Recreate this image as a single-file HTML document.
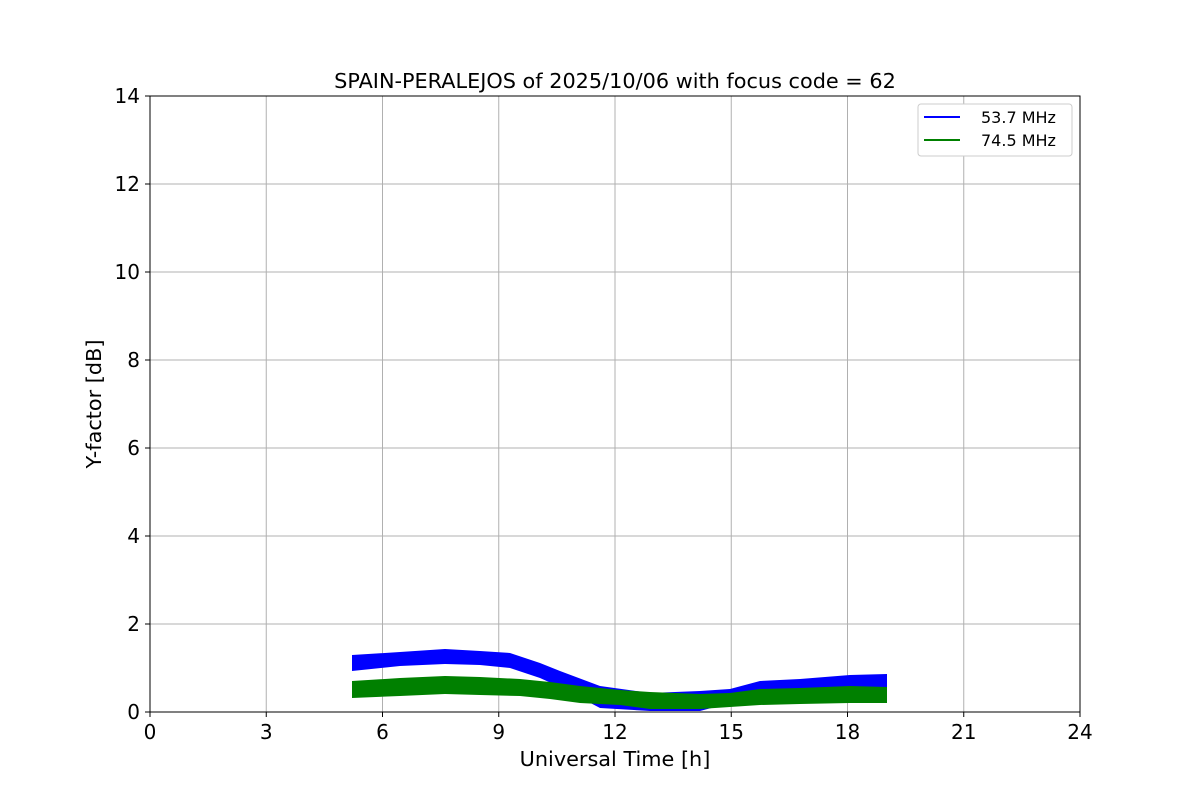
<!DOCTYPE html>
<html><head><meta charset="utf-8"><style>body{margin:0;background:#fff}</style></head><body>
<svg width="1200" height="800" xmlns="http://www.w3.org/2000/svg" font-family="DejaVu Sans, sans-serif">
<rect width="1200" height="800" fill="#fff"/>
<g stroke="#b0b0b0" stroke-width="1">
<line x1="266.25" y1="96" x2="266.25" y2="712"/><line x1="382.5" y1="96" x2="382.5" y2="712"/><line x1="498.75" y1="96" x2="498.75" y2="712"/><line x1="615" y1="96" x2="615" y2="712"/><line x1="731.25" y1="96" x2="731.25" y2="712"/><line x1="847.5" y1="96" x2="847.5" y2="712"/><line x1="963.75" y1="96" x2="963.75" y2="712"/>
<line x1="150" y1="624" x2="1080" y2="624"/><line x1="150" y1="536" x2="1080" y2="536"/><line x1="150" y1="448" x2="1080" y2="448"/><line x1="150" y1="360" x2="1080" y2="360"/><line x1="150" y1="272" x2="1080" y2="272"/><line x1="150" y1="184" x2="1080" y2="184"/>
</g>
<polygon fill="#0000ff" points="352,655 400,652 445,649 480,651 510,653 540,663 560,671 600,686 650,693 700,691 730,689 760,681 800,679 850,675 887,674 887,689 850,690 800,694 760,697 730,703 700,711 650,711 600,708 560,687 540,678 510,668 480,665 445,664 400,666 352,671"/>
<polygon fill="#008000" points="352,681 400,678 445,676 480,677 520,679 550,682 580,686 620,690 650,692 700,694 730,693 760,689 800,688 850,686 887,687 887,703 850,703 800,704 760,705 730,707 700,709 650,709 620,705 580,703 550,699 520,696 480,695 445,694 400,696 352,698"/>
<rect x="150" y="96" width="930" height="616" fill="none" stroke="#000" stroke-width="1"/>
<g stroke="#000">
<line x1="150" y1="712" x2="150" y2="717"/><line x1="266.25" y1="712" x2="266.25" y2="717"/><line x1="382.5" y1="712" x2="382.5" y2="717"/><line x1="498.75" y1="712" x2="498.75" y2="717"/><line x1="615" y1="712" x2="615" y2="717"/><line x1="731.25" y1="712" x2="731.25" y2="717"/><line x1="847.5" y1="712" x2="847.5" y2="717"/><line x1="963.75" y1="712" x2="963.75" y2="717"/><line x1="1080" y1="712" x2="1080" y2="717"/>
<line x1="145" y1="712" x2="150" y2="712"/><line x1="145" y1="624" x2="150" y2="624"/><line x1="145" y1="536" x2="150" y2="536"/><line x1="145" y1="448" x2="150" y2="448"/><line x1="145" y1="360" x2="150" y2="360"/><line x1="145" y1="272" x2="150" y2="272"/><line x1="145" y1="184" x2="150" y2="184"/><line x1="145" y1="96" x2="150" y2="96"/>
</g>
<g font-size="20" text-anchor="middle" fill="#000">
<text x="150" y="739">0</text><text x="266.25" y="739">3</text><text x="382.5" y="739">6</text><text x="498.75" y="739">9</text><text x="615" y="739">12</text><text x="731.25" y="739">15</text><text x="847.5" y="739">18</text><text x="963.75" y="739">21</text><text x="1080" y="739">24</text>
</g>
<g font-size="20" text-anchor="end" fill="#000">
<text x="140" y="719">0</text><text x="140" y="631">2</text><text x="140" y="543">4</text><text x="140" y="455">6</text><text x="140" y="367">8</text><text x="140" y="279">10</text><text x="140" y="191">12</text><text x="140" y="103">14</text>
</g>
<text x="615" y="766" font-size="20.8" text-anchor="middle">Universal Time [h]</text>
<text transform="translate(101,404) rotate(-90)" font-size="20.8" text-anchor="middle">Y-factor [dB]</text>
<text x="615" y="88" font-size="20.8" text-anchor="middle">SPAIN-PERALEJOS of 2025/10/06 with focus code = 62</text>
<rect x="918" y="104" width="154" height="52" rx="3" fill="#fff" stroke="#ccc"/>
<line x1="924" y1="117" x2="960" y2="117" stroke="#0000ff" stroke-width="2"/>
<line x1="924" y1="140" x2="960" y2="140" stroke="#008000" stroke-width="2"/>
<text x="981" y="123" font-size="16">53.7 MHz</text>
<text x="981" y="146" font-size="16">74.5 MHz</text>
</svg>
</body></html>
